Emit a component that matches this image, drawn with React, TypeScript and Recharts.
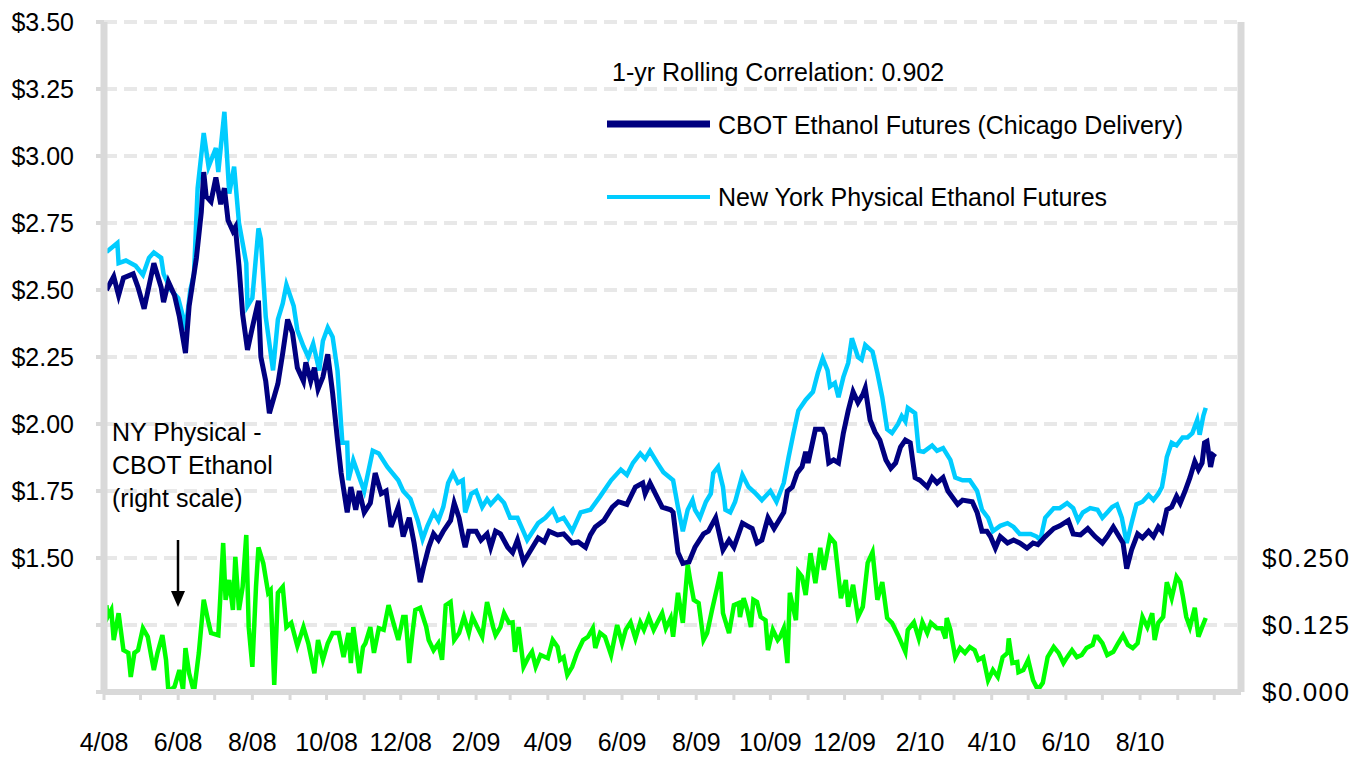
import React from 'react';
import { LineChart, Line, XAxis, YAxis, CartesianGrid } from 'recharts';

// Days since 1 Apr 2008
const cbotDays = [2,8,12,16,24,28,33,41,47,49,53,58,62,67,70,76,80,82,84,88,92,96,99,102,106,108,111,114,118,122,127,129,133,136,143,147,151,155,159,164,166,170,173,176,180,184,188,192,195,200,203,207,210,214,219,223,228,232,236,242,246,251,255,260,263,267,271,275,279,285,288,292,295,297,300,306,310,315,318,322,326,332,336,340,345,351,357,362,366,373,378,385,390,396,400,404,411,418,423,430,437,443,445,449,454,459,466,468,472,476,481,486,493,497,503,509,514,518,525,529,533,537,541,546,551,555,559,562,566,570,574,577,579,585,591,593,596,600,604,608,612,616,620,624,626,630,634,638,643,647,651,655,659,663,667,671,677,681,685,690,694,702,706,714,718,722,726,729,733,737,743,748,753,759,764,768,774,781,786,793,797,803,809,815,821,825,830,834,838,841,845,850,854,859,863,867,870,874,878,882,885,889,893,897,900,903,905,907,910,912,914];
const cbotPrice = [2.50,2.55,2.48,2.545,2.56,2.51,2.43,2.60,2.51,2.455,2.53,2.48,2.40,2.265,2.44,2.62,2.79,2.94,2.85,2.83,2.92,2.82,2.88,2.76,2.72,2.735,2.59,2.41,2.276,2.36,2.46,2.25,2.16,2.04,2.15,2.265,2.39,2.34,2.21,2.16,2.23,2.16,2.21,2.13,2.175,2.26,2.115,1.94,1.817,1.67,1.765,1.68,1.75,1.67,1.705,1.817,1.74,1.75,1.616,1.69,1.58,1.65,1.556,1.41,1.47,1.54,1.59,1.567,1.60,1.64,1.705,1.65,1.58,1.54,1.60,1.60,1.567,1.59,1.54,1.60,1.59,1.54,1.52,1.567,1.485,1.53,1.575,1.56,1.60,1.586,1.59,1.556,1.56,1.54,1.586,1.616,1.64,1.69,1.71,1.70,1.765,1.78,1.74,1.78,1.735,1.69,1.68,1.67,1.52,1.48,1.485,1.54,1.59,1.60,1.65,1.53,1.567,1.54,1.63,1.62,1.61,1.556,1.567,1.65,1.61,1.64,1.67,1.75,1.765,1.817,1.84,1.896,1.855,1.98,1.98,1.96,1.855,1.866,1.855,1.966,2.05,2.12,2.08,2.11,2.134,2.015,1.97,1.94,1.866,1.835,1.855,1.914,1.94,1.93,1.80,1.79,1.765,1.80,1.78,1.80,1.75,1.70,1.716,1.71,1.67,1.60,1.60,1.58,1.537,1.58,1.556,1.567,1.556,1.537,1.556,1.55,1.58,1.61,1.62,1.64,1.59,1.586,1.61,1.58,1.556,1.58,1.616,1.586,1.556,1.46,1.53,1.59,1.575,1.60,1.58,1.616,1.60,1.68,1.69,1.73,1.705,1.75,1.80,1.86,1.83,1.855,1.93,1.935,1.84,1.884,1.877];

const nyDays = [2,11,12,18,26,32,37,41,47,49,55,61,65,67,71,74,77,82,86,92,94,99,103,107,111,117,118,122,127,129,133,139,143,147,150,156,159,164,168,172,177,180,184,188,192,196,200,201,205,210,214,221,226,233,242,246,252,258,262,266,271,275,279,283,287,291,295,297,302,306,311,315,318,324,329,334,340,348,357,363,369,373,378,385,392,400,408,417,425,430,435,441,445,449,455,460,468,472,476,480,484,486,490,495,499,501,505,509,511,515,519,525,530,536,541,548,553,559,563,567,571,577,583,587,591,595,597,601,604,608,612,615,620,623,626,632,636,640,644,648,653,656,659,661,667,670,674,681,685,690,696,700,706,712,718,722,727,731,737,743,748,753,762,767,770,774,781,786,792,797,801,805,811,817,821,825,829,833,837,841,845,849,854,859,863,867,870,872,874,878,882,887,891,895,899,901,904,906];
const nyPrice = [2.642,2.675,2.60,2.61,2.59,2.556,2.62,2.64,2.62,2.56,2.50,2.47,2.40,2.35,2.50,2.56,2.88,3.086,2.96,3.03,2.94,3.165,2.86,2.96,2.75,2.60,2.44,2.47,2.73,2.69,2.40,2.20,2.39,2.45,2.52,2.44,2.35,2.29,2.25,2.30,2.20,2.31,2.36,2.325,2.20,1.93,1.93,1.79,1.865,1.80,1.75,1.90,1.89,1.84,1.79,1.75,1.72,1.64,1.57,1.62,1.67,1.64,1.69,1.78,1.817,1.78,1.79,1.67,1.74,1.75,1.69,1.72,1.70,1.73,1.705,1.65,1.65,1.567,1.63,1.65,1.68,1.64,1.65,1.60,1.67,1.68,1.73,1.79,1.83,1.81,1.855,1.89,1.87,1.90,1.855,1.82,1.79,1.69,1.60,1.68,1.716,1.68,1.65,1.71,1.74,1.817,1.84,1.765,1.68,1.67,1.71,1.81,1.765,1.74,1.716,1.75,1.71,1.78,1.877,1.966,2.05,2.09,2.12,2.19,2.245,2.20,2.14,2.153,2.10,2.175,2.228,2.32,2.25,2.24,2.295,2.27,2.19,2.10,1.98,1.966,2.0,2.03,2.01,2.06,2.04,1.90,1.896,1.92,1.90,1.91,1.866,1.80,1.79,1.79,1.75,1.68,1.65,1.60,1.62,1.63,1.616,1.59,1.59,1.58,1.567,1.65,1.686,1.686,1.705,1.686,1.64,1.67,1.686,1.68,1.65,1.67,1.69,1.70,1.65,1.556,1.63,1.70,1.71,1.735,1.716,1.74,1.765,1.817,1.877,1.93,1.92,1.95,1.95,1.966,2.015,1.96,2.03,2.06];

const spreadDays = [2,3,6,8,12,16,20,22,25,28,32,36,39,41,44,48,51,53,58,62,65,67,70,74,78,82,86,88,94,98,100,103,106,108,111,114,117,119,122,125,127,131,135,137,140,143,147,150,154,159,164,168,173,176,180,184,188,193,197,201,203,205,210,213,215,219,222,226,230,234,238,242,246,248,251,254,256,260,265,267,271,275,278,281,285,288,292,296,300,303,307,311,315,320,322,326,329,333,336,338,341,345,349,352,355,359,365,369,373,375,378,381,385,389,394,398,402,404,408,412,417,422,426,429,433,437,441,444,448,452,456,459,462,466,468,472,476,480,482,485,489,493,496,500,505,507,509,514,518,522,523,526,529,532,534,537,540,544,546,550,554,556,559,562,564,569,571,574,577,581,585,589,592,597,601,606,610,612,616,620,624,628,632,636,640,644,648,653,659,661,666,670,673,677,680,685,689,692,693,696,700,704,708,712,716,719,723,727,731,735,739,743,744,747,751,752,756,760,764,768,772,776,781,785,789,792,796,800,804,808,813,815,817,821,825,830,834,838,842,846,850,854,858,862,864,867,871,874,878,882,885,887,890,893,897,900,903,906];
const spreadValue = [0.162,0.14,0.153,0.097,0.147,0.078,0.073,0.028,0.073,0.078,0.119,0.103,0.065,0.041,0.073,0.106,0.06,0.0,0.01,0.041,0.004,0.082,0.035,0.0,0.073,0.172,0.129,0.11,0.106,0.278,0.172,0.209,0.153,0.252,0.153,0.196,0.293,0.121,0.047,0.196,0.27,0.24,0.185,0.19,0.013,0.185,0.196,0.121,0.129,0.086,0.121,0.091,0.035,0.097,0.06,0.091,0.11,0.11,0.065,0.11,0.054,0.121,0.035,0.084,0.091,0.121,0.073,0.119,0.116,0.162,0.129,0.097,0.14,0.14,0.054,0.116,0.153,0.157,0.121,0.097,0.078,0.091,0.06,0.162,0.168,0.097,0.11,0.14,0.11,0.14,0.121,0.103,0.168,0.121,0.106,0.121,0.147,0.129,0.13,0.075,0.121,0.047,0.065,0.075,0.047,0.069,0.063,0.097,0.084,0.06,0.065,0.032,0.047,0.073,0.097,0.103,0.119,0.082,0.11,0.103,0.069,0.125,0.091,0.116,0.13,0.1,0.13,0.116,0.14,0.116,0.134,0.147,0.119,0.138,0.103,0.185,0.129,0.237,0.209,0.172,0.166,0.097,0.11,0.153,0.203,0.224,0.147,0.11,0.162,0.166,0.14,0.175,0.153,0.121,0.172,0.168,0.14,0.134,0.078,0.116,0.097,0.103,0.119,0.054,0.185,0.134,0.224,0.215,0.181,0.259,0.203,0.269,0.228,0.289,0.278,0.175,0.209,0.159,0.2,0.14,0.159,0.241,0.261,0.172,0.205,0.138,0.129,0.106,0.075,0.116,0.13,0.1,0.13,0.11,0.129,0.119,0.119,0.1,0.138,0.116,0.065,0.082,0.073,0.084,0.078,0.06,0.065,0.022,0.041,0.028,0.065,0.073,0.1,0.054,0.056,0.037,0.041,0.06,0.022,0.004,0.017,0.065,0.084,0.073,0.054,0.065,0.078,0.065,0.069,0.082,0.088,0.103,0.103,0.091,0.069,0.075,0.091,0.106,0.088,0.082,0.091,0.14,0.121,0.147,0.097,0.129,0.14,0.205,0.175,0.215,0.205,0.181,0.14,0.121,0.157,0.103,0.121,0.138];

const monthTicks = [0,30,61,91,122,153,183,214,244,275,306,334,365,395,426,456,487,518,548,579,609,640,671,699,730,760,791,821,852,883,913];
const monthLabels = ['4/08','','6/08','','8/08','','10/08','','12/08','','2/09','','4/09','','6/09','','8/09','','10/09','','12/09','','2/10','','4/10','','6/10','','8/10','',''];
const leftTicks = [1.0,1.25,1.5,1.75,2.0,2.25,2.5,2.75,3.0,3.25,3.5];
const rightTicks = [0,0.125,0.25];

const correlationText = '1-yr Rolling Correlation: 0.902';
const cbotName = 'CBOT Ethanol Futures (Chicago Delivery)';
const nyName = 'New York Physical Ethanol Futures';
const noteLines = ['NY Physical -', 'CBOT Ethanol', '(right scale)'];

const cbotData = cbotDays.map((d, i) => ({ d, v: cbotPrice[i] }));
const nyData = nyDays.map((d, i) => ({ d, v: nyPrice[i] }));
const spreadData = spreadDays.map((d, i) => ({ d, v: spreadValue[i] }));

const FONT = '"Liberation Sans", Arial, sans-serif';
const NAVY = '#000080';
const CYAN = '#00ccff';
const GREEN = '#00ff00';
const AXIS = '#d9d9d9';

export default function App() {
  return (
    <div style={{ position: 'relative', width: 1363, height: 750, fontFamily: FONT, background: '#fff' }}>
      <LineChart width={1363} height={750} margin={{ top: 14, right: 0, left: 0, bottom: 0 }}>
        <CartesianGrid yAxisId="left" vertical={false} stroke="#e8e8e8" strokeWidth={4} strokeDasharray="13 7" />
        <XAxis
          dataKey="d"
          type="number"
          domain={[0, 935]}
          ticks={monthTicks}
          interval={0}
          allowDuplicatedCategory={false}
          tickFormatter={(v: number) => monthLabels[monthTicks.indexOf(v)] ?? ''}
          height={66}
          axisLine={{ stroke: AXIS, strokeWidth: 6 }}
          tickLine={{ stroke: AXIS, strokeWidth: 3 }}
          tickSize={8}
          tickMargin={33}
          tick={{ fontSize: 25, fill: '#000', fontFamily: FONT }}
        />
        <YAxis
          yAxisId="left"
          domain={[1, 3.5]}
          ticks={leftTicks}
          interval={0}
          allowDataOverflow
          width={96}
          axisLine={{ stroke: AXIS, strokeWidth: 7 }}
          tickLine={{ stroke: AXIS, strokeWidth: 4 }}
          tickSize={8}
          tickMargin={22}
          tickFormatter={(v: number) => (v >= 1.5 ? `$${v.toFixed(2)}` : '')}
          tick={{ fontSize: 25, fill: '#000', fontFamily: FONT }}
        />
        <YAxis
          yAxisId="right"
          orientation="right"
          domain={[0, 1.25]}
          ticks={rightTicks}
          interval={0}
          allowDataOverflow
          width={130}
          axisLine={{ stroke: AXIS, strokeWidth: 7 }}
          tickLine={false}
          tickSize={0}
          tickMargin={21}
          tickFormatter={(v: number) => `$${v.toFixed(3)}`}
          tick={{ fontSize: 26, fill: '#000', fontFamily: FONT, letterSpacing: 1.5 }}
        />
        <Line yAxisId="left" data={nyData} dataKey="v" type="linear" stroke={CYAN} strokeWidth={4.5} dot={false} isAnimationActive={false} />
        <Line yAxisId="left" data={cbotData} dataKey="v" type="linear" stroke={NAVY} strokeWidth={5} dot={false} isAnimationActive={false} />
        <Line yAxisId="right" data={spreadData} dataKey="v" type="linear" stroke={GREEN} strokeWidth={4.5} dot={false} isAnimationActive={false} />
      </LineChart>
      <svg width={1363} height={750} style={{ position: 'absolute', left: 0, top: 0, pointerEvents: 'none' }}>
        <g fontFamily={FONT} fontSize={25} fill="#000">
          <text x={604} y={73}>{correlationText}</text>
          <line x1={599} y1={116} x2={702} y2={116} stroke={NAVY} strokeWidth={7} />
          <text x={710} y={126}>{cbotName}</text>
          <line x1={599} y1={189} x2={702} y2={189} stroke={CYAN} strokeWidth={4} />
          <text x={710} y={198}>{nyName}</text>
          {noteLines.map((t, i) => (
            <text key={t} x={104} y={433 + i * 33}>{t}</text>
          ))}
        </g>
        <line x1={170} y1={532} x2={170} y2={588} stroke="#000" strokeWidth={2.5} />
        <polygon points="163,583 177,583 170,599" fill="#000" />
      </svg>
    </div>
  );
}
